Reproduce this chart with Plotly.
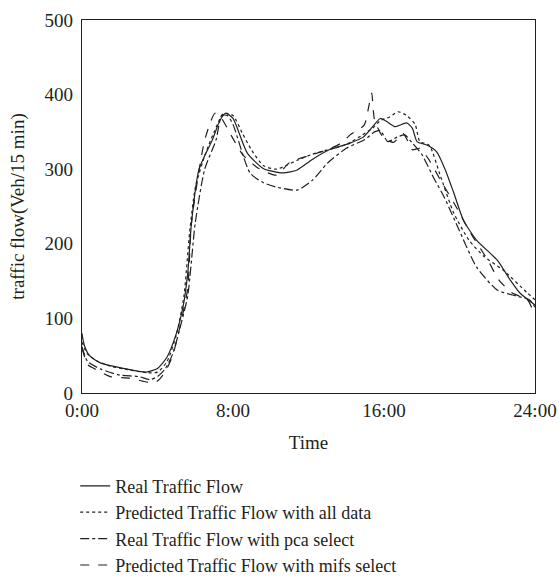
import plotly.graph_objects as go

# ---- data (hours of day, vehicles / 15 min) ----
real_h = [0, 0.05, 0.15, 0.4, 1, 2.2, 3.4, 4, 4.5, 5, 5.35, 5.6, 5.8, 6.2, 6.9, 7.3, 7.6, 8, 8.75, 9.6, 10.65, 11.4, 12.2, 13.1, 14.2, 14.9, 15.4, 15.8, 16.2, 16.6, 17.2, 17.5, 17.75, 18.3, 18.8, 19.25, 19.7, 20.2, 20.9, 22, 22.7, 23.2, 24]
real_v = [80, 72, 62, 50, 40, 33, 28, 33, 48, 80, 115, 160, 228, 300, 339, 365, 375, 368, 322, 301, 295, 299, 313, 326, 335, 343, 357, 368, 363, 357, 362, 355, 337, 332, 323, 299, 268, 232, 205, 178, 151, 134, 118]

all_h = [0, 0.3, 0.8, 1.5, 2.5, 3.5, 4, 4.5, 5, 5.4, 5.7, 6, 6.5, 7, 7.5, 8, 8.5, 9, 9.6, 10.3, 11.4, 12.2, 13, 14, 14.8, 15.4, 15.8, 16.3, 16.75, 17.2, 17.65, 17.9, 18.4, 19, 19.7, 20.5, 21.3, 22.3, 23.6, 24]
all_v = [68, 52, 43, 36, 31, 27, 28, 42, 78, 130, 215, 275, 318, 350, 375, 372, 348, 325, 305, 300, 312, 320, 326, 333, 345, 355, 365, 370, 377, 372, 360, 337, 332, 290, 241, 205, 183, 165, 134, 125]

pca_h = [0, 0.3, 1, 2, 3, 3.6, 4, 4.4, 4.8, 5.2, 5.6, 6, 6.5, 7.1, 7.4, 7.7, 8, 8.9, 9.6, 10.3, 11.4, 12.2, 13, 14, 15, 15.5, 15.8, 16.2, 16.7, 17.1, 17.5, 18, 18.6, 19.2, 19.9, 20.9, 22, 23, 23.7, 24]
pca_v = [62, 42, 32, 24, 22, 18, 22, 32, 52, 88, 130, 228, 300, 339, 372, 372, 360, 295, 282, 276, 272, 285, 308, 328, 340, 350, 352, 337, 343, 346, 335, 320, 290, 262, 223, 169, 138, 130, 125, 115]

mifs_h = [0, 0.3, 0.7, 1.5, 2.5, 3.2, 3.6, 4, 4.4, 4.8, 5.2, 5.6, 5.8, 6.5, 7.05, 7.4, 7.8, 8.5, 9.3, 10.3, 11, 12, 13, 13.8, 14.2, 14.95, 15.2, 15.35, 15.5, 15.95, 16.5, 17, 17.3, 17.5, 17.9, 18.4, 19, 19.7, 20.6, 21.5, 22.1, 22.8, 23.6, 24]
mifs_v = [60, 38, 32, 22, 20, 16, 14, 16, 28, 50, 90, 140, 228, 339, 375, 368, 350, 320, 302, 292, 309, 318, 326, 336, 346, 359, 385, 402, 366, 343, 336, 348, 336, 326, 328, 312, 285, 255, 214, 178, 151, 134, 125, 103]

names = ["Real Traffic Flow", "Predicted Traffic Flow with all data",
         "Real Traffic Flow with pca select", "Predicted Traffic Flow with mifs select"]
tick_vals = [0, 8, 16, 24]
tick_text = ["0:00", "8:00", "16:00", "24:00"]
y_ticks = [0, 100, 200, 300, 400, 500]

ink = "#231f20"
font_fam = "Liberation Serif, DejaVu Serif, serif"

fig = go.Figure()
for xs, ys, nm, dash in [(real_h, real_v, names[0], "solid"),
                         (all_h, all_v, names[1], "dot"),
                         (pca_h, pca_v, names[2], "dashdot"),
                         (mifs_h, mifs_v, names[3], "dash")]:
    fig.add_trace(go.Scatter(x=xs, y=ys, name=nm, mode="lines",
                             line=dict(color=ink, width=1.2, dash=dash, shape="spline", smoothing=0.6)))

fig.update_layout(
    width=559, height=584,
    margin=dict(l=82, r=24, t=20, b=191, autoexpand=False),
    paper_bgcolor="white", plot_bgcolor="white",
    font=dict(family=font_fam, size=19, color=ink),
    showlegend=True,
    legend=dict(x=-0.015, y=-0.2, xanchor="left", yanchor="top",
                font=dict(family=font_fam, size=18, color=ink),
                tracegroupgap=0, itemwidth=30, bgcolor="rgba(0,0,0,0)"),
    xaxis=dict(range=[0, 24], tickvals=tick_vals, ticktext=tick_text,
               showgrid=False, zeroline=False, showline=True, linecolor=ink,
               linewidth=1.2, mirror=True, ticks="", automargin=False,
               title=dict(text="Time", font=dict(size=19), standoff=15),
               tickfont=dict(size=19)),
    yaxis=dict(range=[0, 500], tickvals=y_ticks,
               showgrid=False, zeroline=False, showline=True, linecolor=ink,
               linewidth=1.2, mirror=True, ticks="", automargin=False,
               ticklabelstandoff=4,
               title=dict(text="traffic flow(Veh/15 min)", font=dict(size=19), standoff=14),
               tickfont=dict(size=19)),
)

fig.write_html("out.html")
